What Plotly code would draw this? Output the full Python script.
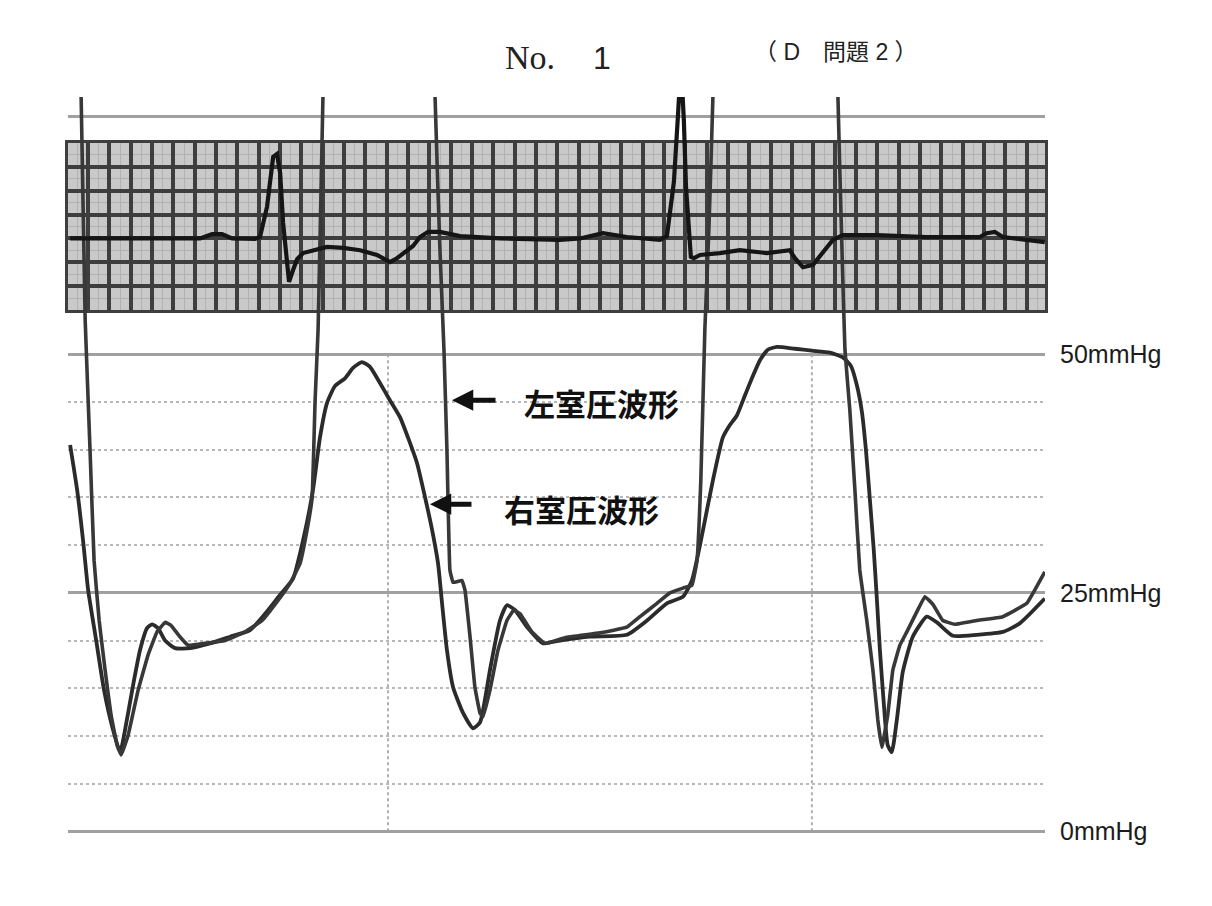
import plotly.graph_objects as go

# ---------------- data (time in s, pressure in mmHg, ECG in mV) ----------------
rv_t = [0.000, 0.033, 0.061, 0.085, 0.123, 0.160, 0.203, 0.236, 0.259, 0.297,
        0.330, 0.363, 0.387, 0.415, 0.448, 0.495, 0.566, 0.660, 0.755, 0.849,
        0.920, 0.991, 1.052, 1.099, 1.146, 1.179, 1.212, 1.250, 1.297, 1.335,
        1.377, 1.415, 1.462, 1.509, 1.557, 1.594, 1.637, 1.675, 1.708, 1.736,
        1.755, 1.778, 1.807, 1.854, 1.901, 1.934, 1.981, 2.028, 2.061, 2.099,
        2.160, 2.231, 2.311, 2.453, 2.627, 2.722, 2.816, 2.892, 2.934, 2.972,
        3.005, 3.033, 3.080, 3.113, 3.146, 3.184, 3.217, 3.255, 3.292, 3.335,
        3.420, 3.500, 3.585, 3.646, 3.684, 3.712, 3.736, 3.755, 3.774, 3.792,
        3.807, 3.821, 3.840, 3.858, 3.877, 3.901, 3.929, 3.976, 4.042, 4.090,
        4.165, 4.278, 4.401, 4.481, 4.599]
rv_p = [40.5, 35.8, 30.5, 25.3, 20.0, 14.8, 10.6, 8.3, 10.6, 15.3,
        19.0, 21.3, 21.7, 21.3, 20.0, 19.2, 19.2, 19.7, 20.4, 21.1,
        22.8, 24.8, 26.5, 30.5, 35.8, 41.3, 44.9, 46.7, 47.5, 48.6,
        49.2, 48.7, 47.0, 45.2, 43.4, 41.3, 38.6, 35.0, 31.6, 28.1,
        23.9, 19.0, 15.1, 12.4, 10.8, 11.4, 16.9, 22.1, 23.7, 23.2,
        21.3, 19.7, 20.0, 20.4, 20.6, 22.1, 23.9, 24.6, 26.3, 30.0,
        33.7, 36.8, 41.3, 42.6, 43.6, 45.7, 47.5, 49.4, 50.5, 50.8,
        50.6, 50.4, 50.2, 49.7, 48.8, 46.8, 44.0, 40.0, 34.7, 29.5,
        24.2, 19.0, 13.2, 9.0, 8.3, 11.7, 16.7, 20.4, 22.5, 21.9,
        20.5, 20.6, 20.9, 21.8, 24.4]

# left ventricle: systolic part runs off the top of the recording
lv_t = [0.009, 0.052, 0.071, 0.094, 0.113, 0.137, 0.165, 0.193, 0.222, 0.241,
        0.274, 0.321, 0.368, 0.410, 0.448, 0.476, 0.514, 0.557, 0.637, 0.731,
        0.825, 0.906, 0.981, 1.038, 1.085, 1.118, 1.142, 1.156, 1.170, 1.193,
        1.226, 1.462, 1.708, 1.722, 1.745, 1.764, 1.778, 1.792, 1.807, 1.849,
        1.863, 1.887, 1.910, 1.934, 1.948, 1.981, 2.019, 2.061, 2.094, 2.123,
        2.179, 2.241, 2.335, 2.500, 2.627, 2.689, 2.769, 2.830, 2.892, 2.934,
        2.958, 2.976, 2.995, 3.014, 3.033, 3.047, 3.349, 3.608, 3.623, 3.642,
        3.656, 3.679, 3.703, 3.726, 3.759, 3.788, 3.811, 3.830, 3.858, 3.882,
        3.915, 3.948, 3.995, 4.033, 4.071, 4.118, 4.175, 4.278, 4.401, 4.514,
        4.599]
lv_p = [110, 77.0, 53.6, 40.0, 28.4, 22.1, 16.9, 12.2, 9.0, 8.0,
        10.1, 14.8, 18.5, 20.9, 21.9, 21.6, 20.5, 19.5, 19.7, 20.0,
        20.9, 22.1, 24.2, 26.0, 28.1, 31.6, 35.0, 45.2, 52.6, 77.0,
        110, 118, 110, 77.0, 61.0, 50.5, 40.0, 27.4, 26.1, 26.3,
        25.3, 20.4, 15.1, 12.4, 12.0, 14.8, 19.0, 22.1, 23.2, 22.8,
        20.9, 19.7, 20.3, 20.8, 21.4, 22.5, 23.9, 25.0, 25.5, 25.8,
        28.4, 36.8, 52.6, 63.1, 77.0, 110, 118, 110, 77.0, 61.0,
        50.5, 44.2, 35.8, 27.4, 22.1, 16.9, 11.7, 8.8, 12.2, 16.9,
        19.5, 20.9, 23.0, 24.6, 23.8, 22.1, 21.7, 22.1, 22.5, 23.9,
        27.2]

ecg_t = [0.000, 0.377, 0.613, 0.670, 0.717, 0.764, 0.873, 0.896, 0.929, 0.958,
         0.976, 0.991, 1.005, 1.024, 1.033, 1.052, 1.071, 1.099, 1.146, 1.212,
         1.288, 1.368, 1.448, 1.509, 1.542, 1.580, 1.618, 1.651, 1.689, 1.745,
         1.840, 2.028, 2.311, 2.406, 2.514, 2.627, 2.783, 2.816, 2.849, 2.868,
         2.877, 2.887, 2.896, 2.906, 2.929, 2.943, 2.972, 3.066, 3.160, 3.288,
         3.396, 3.420, 3.458, 3.505, 3.552, 3.599, 3.646, 3.807, 4.042, 4.292,
         4.325, 4.363, 4.401, 4.514, 4.599]
ecg_mv = [0.00, 0.00, 0.00, 0.09, 0.09, 0.00, -0.01, 0.03, 0.67, 1.73,
          1.79, 1.39, 0.33, -0.52, -0.92, -0.67, -0.44, -0.31, -0.25, -0.18,
          -0.20, -0.25, -0.35, -0.50, -0.42, -0.29, -0.16, 0.03, 0.14, 0.14,
          0.05, 0.00, -0.03, 0.00, 0.11, 0.03, -0.03, 0.05, 1.20, 2.60,
          3.30, 3.30, 2.50, 1.10, -0.39, -0.42, -0.35, -0.31, -0.25, -0.31,
          -0.25, -0.42, -0.61, -0.56, -0.31, -0.03, 0.07, 0.07, 0.03, 0.03,
          0.11, 0.14, 0.03, -0.03, -0.08]

press_ticks = [0, 25, 50, 75]
press_labels = ["0mmHg", "25mmHg", "50mmHg", ""]
press_minor = [5, 10, 15, 20, 30, 35, 40, 45]
marker_times = [1.5, 3.5]

title_no = "No."
title_num = "1"
title_note = "（ D　問題 2 ）"
label_lv = "左室圧波形"
label_rv = "右室圧波形"

# ---------------- figure ----------------
T_RANGE = [-0.01, 4.6]
SANS = "Liberation Sans, Arial, sans-serif"
CJK = "Noto Sans CJK JP, sans-serif"

fig = go.Figure()

# dummy trace to create the ECG-paper subplot (x, y)
fig.add_trace(go.Scatter(x=[], y=[], xaxis="x", yaxis="y", showlegend=False,
                         hoverinfo="skip"))

fig.add_trace(go.Scatter(x=rv_t, y=rv_p, xaxis="x2", yaxis="y2", mode="lines",
                         line=dict(color="#2b2b2b", width=3.8, shape="spline",
                                   smoothing=0.5),
                         name="右室圧", showlegend=False))
fig.add_trace(go.Scatter(x=lv_t, y=lv_p, xaxis="x2", yaxis="y2", mode="lines",
                         line=dict(color="#383838", width=3.6, shape="spline",
                                   smoothing=0.25),
                         name="左室圧", showlegend=False))
fig.add_trace(go.Scatter(x=ecg_t, y=ecg_mv, xaxis="x2", yaxis="y3", mode="lines",
                         line=dict(color="#151515", width=4.2),
                         name="ECG", showlegend=False))

band_dom = [0.7118, 0.9378]
box_t = 0.10066
fig.update_layout(
    width=1212, height=906,
    margin=dict(l=68, r=167, t=97, b=70),
    paper_bgcolor="white",
    plot_bgcolor="rgba(0,0,0,0)",
    showlegend=False,
    # ECG recording paper
    xaxis=dict(domain=[0, 1], range=T_RANGE, anchor="y",
               showticklabels=False, zeroline=False, ticks="",
               tickmode="linear", tick0=0.0849, dtick=box_t,
               showgrid=True, gridcolor="#3e3e3e", gridwidth=3.8,
               minor=dict(tickmode="linear", tick0=0.0849, dtick=box_t / 2,
                          showgrid=True, gridcolor="#b2b2b2", gridwidth=1),
               showline=True, mirror=True, linecolor="#3e3e3e", linewidth=3),
    yaxis=dict(domain=band_dom, range=[0, 7], anchor="x",
               showticklabels=False, zeroline=False, ticks="",
               tickmode="linear", tick0=0, dtick=1,
               showgrid=True, gridcolor="#3e3e3e", gridwidth=3.8,
               minor=dict(tickmode="linear", tick0=0, dtick=0.5,
                          showgrid=True, gridcolor="#b2b2b2", gridwidth=1),
               showline=True, mirror=True, linecolor="#3e3e3e", linewidth=3),
    # pressure axes
    xaxis2=dict(domain=[0, 1], range=T_RANGE, anchor="y2",
                showticklabels=False, showgrid=False, zeroline=False, ticks=""),
    yaxis2=dict(domain=[0, 1], range=[-0.5, 77], anchor="x2", side="right",
                tickmode="array", tickvals=press_ticks, ticktext=press_labels,
                tickfont=dict(family=SANS, size=25, color="#1c1c1c"),
                ticks="", ticklabelstandoff=14,
                showgrid=True, gridcolor="#a0a0a0", gridwidth=2.5,
                zeroline=False, showline=False,
                minor=dict(tickmode="array", tickvals=press_minor,
                           showgrid=True, gridcolor="#b8b8b8", gridwidth=2,
                           griddash="dot", ticks="")),
    yaxis3=dict(overlaying="y2", anchor="x2", range=[-12.675, 3.0],
                visible=False),
)

# grey background of the ECG paper
fig.add_shape(type="rect", xref="x", yref="y", x0=T_RANGE[0], x1=T_RANGE[1],
              y0=0, y1=7, fillcolor="#c9c9c9", line=dict(width=0), layer="below")

# dotted time markers on the pressure grid
for tm in marker_times:
    fig.add_shape(type="line", xref="x2", yref="y2", x0=tm, x1=tm, y0=0, y1=50,
                  line=dict(color="#b0b0b0", width=2, dash="dot"), layer="below")

# title
fig.add_annotation(xref="paper", yref="paper", x=0.4729, y=1.0528,
                   text=title_no, showarrow=False, xanchor="center", yanchor="middle",
                   font=dict(family="Liberation Serif, Times New Roman, serif",
                             size=34, color="#222"))
fig.add_annotation(xref="paper", yref="paper", x=0.5466, y=1.0528,
                   text=title_num, showarrow=False, xanchor="center", yanchor="middle",
                   font=dict(family=SANS, size=32, color="#222"))
fig.add_annotation(xref="paper", yref="paper", x=0.786, y=1.0609,
                   text=title_note, showarrow=False, xanchor="center", yanchor="middle",
                   font=dict(family="Liberation Sans, Noto Sans CJK JP, sans-serif",
                             size=23, color="#222"))

# waveform labels with arrows
fig.add_annotation(xref="x2", yref="y2", x=2.509, y=45.0, text="<b>" + label_lv + "</b>",
                   showarrow=False, xanchor="center", yanchor="middle",
                   font=dict(family=CJK, size=31, color="#111"))
fig.add_annotation(xref="x2", yref="y2", x=2.415, y=33.8, text="<b>" + label_rv + "</b>",
                   showarrow=False, xanchor="center", yanchor="middle",
                   font=dict(family=CJK, size=31, color="#111"))
fig.add_annotation(xref="x2", yref="y2", x=1.802, y=45.2, text="",
                   showarrow=True, ax=45, ay=0, arrowhead=2, arrowwidth=5,
                   arrowsize=0.85, arrowcolor="#111")
fig.add_annotation(xref="x2", yref="y2", x=1.698, y=34.3, text="",
                   showarrow=True, ax=43, ay=0, arrowhead=2, arrowwidth=5,
                   arrowsize=0.85, arrowcolor="#111")

fig.write_html("out.html")
